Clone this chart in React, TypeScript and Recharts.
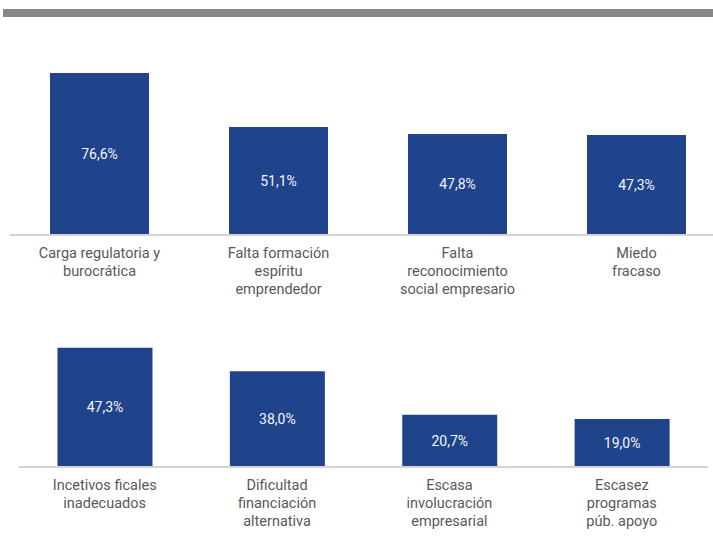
import React from 'react';
import { BarChart, Bar, XAxis, YAxis, LabelList } from 'recharts';

// top block
const topCategories = [
    'Carga regulatoria y\nburocrática',
    'Falta formación\nespíritu\nemprendedor',
    'Falta\nreconocimiento\nsocial empresario',
    'Miedo\nfracaso',
];
const topValues = [76.6, 51.1, 47.8, 47.3];

// bottom block
const bottomCategories = [
    'Incetivos ficales\ninadecuados',
    'Dificultad\nfinanciación\nalternativa',
    'Escasa\ninvolucración\nempresarial',
    'Escasez\nprogramas\npúb. apoyo',
];
const bottomValues = [47.3, 38.0, 20.7, 19.0];

const BAR_COLOR = '#1F448C';
const TEXT_COLOR = '#595959';
const FONT = 'Roboto, "Noto Sans", sans-serif';

const fmt = (v: any) => Number(v).toFixed(1).replace('.', ',') + '%';

const MultiLineTick = (props: any) => {
    const { x, y, payload } = props;
    const lines = String(payload.value).split('\n');
    return (
        <text x={x} y={y} textAnchor="middle" fill={TEXT_COLOR} fontSize={14.5} fontFamily={FONT}>
            {lines.map((line, i) => (
                <tspan key={i} x={x} dy={i === 0 ? 23 : 18}>
                    {line}
                </tspan>
            ))}
        </text>
    );
};

const App: React.FC = () => {
    const topData = topCategories.map((name, i) => ({ name, value: topValues[i] }));
    const bottomData = bottomCategories.map((name, i) => ({ name, value: bottomValues[i] }));

    return (
        <div style={{ position: 'absolute', top: 0, left: 0, width: 713, height: 560, overflow: 'hidden', background: '#fff', fontFamily: FONT }}>
            {/* title strip */}
            <div style={{ position: 'absolute', top: 9, left: 3, width: 710, height: 8, background: '#878787' }} />

            <div style={{ position: 'absolute', top: 40, left: 0 }}>
                <BarChart width={730} height={260} data={topData} margin={{ top: 25.8, right: 4, left: 10, bottom: 0 }} barSize={99}>
                    <XAxis
                        dataKey="name"
                        axisLine={{ stroke: '#D4D4D4', strokeWidth: 2 }}
                        tickLine={false}
                        tickSize={0}
                        tickMargin={0}
                        height={65}
                        interval={0}
                        tick={<MultiLineTick />}
                    />
                    <YAxis hide domain={[0, 80]} />
                    <Bar dataKey="value" fill={BAR_COLOR} isAnimationActive={false}>
                        <LabelList dataKey="value" position="center" formatter={fmt} fill="#f4f4f4" fontSize={14} fontWeight={400} fontFamily={FONT} />
                    </Bar>
                </BarChart>
            </div>

            <div style={{ position: 'absolute', top: 320, left: 0 }}>
                <BarChart width={712} height={222} data={bottomData} margin={{ top: 21, right: 4, left: 18.5, bottom: 0 }} barSize={95}>
                    <XAxis
                        dataKey="name"
                        axisLine={{ stroke: '#D4D4D4', strokeWidth: 2 }}
                        tickLine={false}
                        tickSize={0}
                        tickMargin={0}
                        height={75}
                        interval={0}
                        tick={<MultiLineTick />}
                    />
                    <YAxis hide domain={[0, 50]} />
                    <Bar dataKey="value" fill={BAR_COLOR} isAnimationActive={false}>
                        <LabelList dataKey="value" position="center" formatter={fmt} fill="#f4f4f4" fontSize={14} fontWeight={400} fontFamily={FONT} />
                    </Bar>
                </BarChart>
            </div>
        </div>
    );
};

export default App;
